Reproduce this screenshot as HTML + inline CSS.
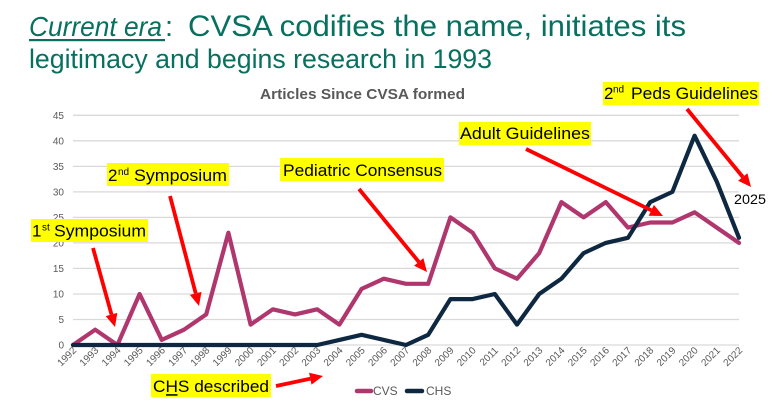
<!DOCTYPE html>
<html><head><meta charset="utf-8"><style>
html,body{margin:0;padding:0;background:#fff;}
svg{display:block;}
text{font-family:"Liberation Sans",Arial,sans-serif;}
</style></head><body>
<svg width="772" height="409" viewBox="0 0 772 409" xmlns="http://www.w3.org/2000/svg">
<rect width="772" height="409" fill="#fff"/>
<!-- Title -->
<g fill="#07705F">
<text x="29" y="36" font-size="28" font-style="italic" textLength="133" lengthAdjust="spacingAndGlyphs">Current era</text>
<rect x="29" y="39" width="136" height="2.2"/>
<text x="165" y="36" font-size="29">:</text>
<text x="188" y="36" font-size="30" textLength="498" lengthAdjust="spacingAndGlyphs">CVSA codifies the name, initiates its</text>
<text x="29" y="68" font-size="27" textLength="463" lengthAdjust="spacingAndGlyphs">legitimacy and begins research in 1993</text>
</g>
<text x="260" y="99" font-size="15" font-weight="bold" fill="#595959" textLength="205" lengthAdjust="spacingAndGlyphs">Articles Since CVSA formed</text>

<!-- gridlines -->
<g stroke="#D9D9D9" stroke-width="1.3">
<line x1="73" x2="739" y1="319.5" y2="319.5"/>
<line x1="73" x2="739" y1="294" y2="294"/>
<line x1="73" x2="739" y1="268.4" y2="268.4"/>
<line x1="73" x2="739" y1="242.9" y2="242.9"/>
<line x1="73" x2="739" y1="217.4" y2="217.4"/>
<line x1="73" x2="739" y1="191.9" y2="191.9"/>
<line x1="73" x2="739" y1="166.4" y2="166.4"/>
<line x1="73" x2="739" y1="140.8" y2="140.8"/>
<line x1="73" x2="739" y1="115.3" y2="115.3"/>
<line x1="73" x2="739" y1="345" y2="345"/>
</g>
<!-- y labels -->
<g font-size="10" fill="#595959" text-anchor="end">
<text x="64" y="348.5">0</text>
<text x="64" y="323">5</text>
<text x="64" y="297.5">10</text>
<text x="64" y="272">15</text>
<text x="64" y="246.5">20</text>
<text x="64" y="221">25</text>
<text x="64" y="195.5">30</text>
<text x="64" y="170">35</text>
<text x="64" y="144.5">40</text>
<text x="64" y="119">45</text>
</g>
<!-- x labels -->
<g font-size="10" fill="#595959" text-anchor="end">
<text transform="translate(77,351) rotate(-45)">1992</text>
<text transform="translate(99.2,351) rotate(-45)">1993</text>
<text transform="translate(121.4,351) rotate(-45)">1994</text>
<text transform="translate(143.6,351) rotate(-45)">1995</text>
<text transform="translate(165.8,351) rotate(-45)">1996</text>
<text transform="translate(188,351) rotate(-45)">1997</text>
<text transform="translate(210.2,351) rotate(-45)">1998</text>
<text transform="translate(232.4,351) rotate(-45)">1999</text>
<text transform="translate(254.6,351) rotate(-45)">2000</text>
<text transform="translate(276.8,351) rotate(-45)">2001</text>
<text transform="translate(299,351) rotate(-45)">2002</text>
<text transform="translate(321.2,351) rotate(-45)">2003</text>
<text transform="translate(343.4,351) rotate(-45)">2004</text>
<text transform="translate(365.6,351) rotate(-45)">2005</text>
<text transform="translate(387.8,351) rotate(-45)">2006</text>
<text transform="translate(410,351) rotate(-45)">2007</text>
<text transform="translate(432.2,351) rotate(-45)">2008</text>
<text transform="translate(454.4,351) rotate(-45)">2009</text>
<text transform="translate(476.6,351) rotate(-45)">2010</text>
<text transform="translate(498.8,351) rotate(-45)">2011</text>
<text transform="translate(521,351) rotate(-45)">2012</text>
<text transform="translate(543.2,351) rotate(-45)">2013</text>
<text transform="translate(565.4,351) rotate(-45)">2014</text>
<text transform="translate(587.6,351) rotate(-45)">2015</text>
<text transform="translate(609.8,351) rotate(-45)">2016</text>
<text transform="translate(632,351) rotate(-45)">2017</text>
<text transform="translate(654.2,351) rotate(-45)">2018</text>
<text transform="translate(676.4,351) rotate(-45)">2019</text>
<text transform="translate(698.6,351) rotate(-45)">2020</text>
<text transform="translate(720.8,351) rotate(-45)">2021</text>
<text transform="translate(743,351) rotate(-45)">2022</text>
</g>

<!-- CVS series -->
<polyline fill="none" stroke="#B0376E" stroke-width="4.2" stroke-linejoin="round" stroke-linecap="round"
points="73,345 95.2,329.7 117.4,345 139.6,294 161.8,339.9 184,329.7 206.2,314.4 228.4,232.7 250.6,324.6 272.8,309.3 295,314.4 317.2,309.3 339.4,324.6 361.6,288.9 383.8,278.7 406,283.8 428.2,283.8 450.4,217.4 472.6,232.7 494.8,268.4 517,278.7 539.2,253.1 561.4,202.1 583.6,217.4 605.8,202.1 628,227.6 650.2,222.5 672.4,222.5 694.6,212.3 716.8,227.6 739,242.9"/>
<!-- CHS series -->
<polyline fill="none" stroke="#0E2841" stroke-width="4.2" stroke-linejoin="round" stroke-linecap="round"
points="73,345 95.2,345 117.4,345 139.6,345 161.8,345 184,345 206.2,345 228.4,345 250.6,345 272.8,345 295,345 317.2,345 339.4,339.9 361.6,334.8 383.8,339.9 406,345 428.2,334.8 450.4,299.1 472.6,299.1 494.8,294 517,324.6 539.2,294 561.4,278.7 583.6,253.1 605.8,242.9 628,237.8 650.2,202.1 672.4,191.9 694.6,135.7 716.8,181.7 739,237.8"/>

<!-- legend -->
<line x1="357" y1="391" x2="371" y2="391" stroke="#B0376E" stroke-width="4.5" stroke-linecap="round"/>
<text x="373" y="395" font-size="12" fill="#595959">CVS</text>
<line x1="407" y1="391" x2="422" y2="391" stroke="#0E2841" stroke-width="4.5" stroke-linecap="round"/>
<text x="426" y="395" font-size="12" fill="#595959">CHS</text>

<!-- arrows -->
<g stroke="#FF0000" stroke-width="3.8" stroke-linecap="butt">
<line x1="93" y1="248" x2="111.5" y2="314.5"/>
<line x1="170" y1="196" x2="195.7" y2="293.4"/>
<line x1="359" y1="189" x2="418.8" y2="261.9"/>
<line x1="526" y1="149" x2="651.3" y2="210.3"/>
<line x1="687" y1="109" x2="742.8" y2="177"/>
<line x1="276" y1="386" x2="310.3" y2="378.7"/>
</g>
<g fill="#FF0000">
<polygon points="115,327 105.7,316.1 117.3,312.9"/>
<polygon points="199,306 189.9,294.9 201.5,291.9"/>
<polygon points="427,272 414.1,265.7 423.4,258.1"/>
<polygon points="663,216 648.7,215.7 653.9,204.9"/>
<polygon points="751,187 738.1,180.8 747.4,173.2"/>
<polygon points="323,376 311.5,384.6 309.1,372.8"/>
</g>

<!-- labels -->
<g fill="#FFFF00">
<rect x="31" y="219" width="117" height="23"/>
<rect x="107" y="163" width="122" height="23"/>
<rect x="280" y="158" width="164" height="23"/>
<rect x="459" y="122" width="132" height="23"/>
<rect x="603" y="82" width="156" height="23"/>
<rect x="151" y="374" width="120" height="23"/>
</g>
<g fill="#000">
<text x="32" y="236.5" font-size="17">1</text>
<text x="42" y="230.5" font-size="10">st</text>
<text x="54" y="236.5" font-size="17" textLength="92" lengthAdjust="spacingAndGlyphs">Symposium</text>

<text x="108" y="181" font-size="17">2</text>
<text x="118" y="175" font-size="10">nd</text>
<text x="134" y="181" font-size="17" textLength="93" lengthAdjust="spacingAndGlyphs">Symposium</text>

<text x="283" y="176" font-size="17" textLength="159" lengthAdjust="spacingAndGlyphs">Pediatric Consensus</text>
<text x="460" y="139" font-size="17" textLength="130" lengthAdjust="spacingAndGlyphs">Adult Guidelines</text>

<text x="604" y="99" font-size="17">2</text>
<text x="613" y="92.5" font-size="10">nd</text>
<text x="631" y="99" font-size="17" textLength="127" lengthAdjust="spacingAndGlyphs">Peds Guidelines</text>

<text x="153" y="392" font-size="17" textLength="116" lengthAdjust="spacingAndGlyphs">CHS described</text>
<rect x="166" y="394.2" width="11.5" height="1.5"/>

<text x="734" y="204" font-size="14" textLength="32" lengthAdjust="spacingAndGlyphs">2025</text>
</g>
</svg>
</body></html>
